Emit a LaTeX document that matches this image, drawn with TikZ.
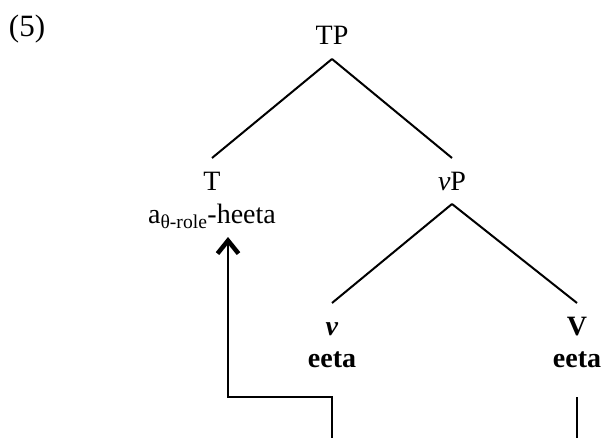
\documentclass[tikz,border=0pt]{standalone}
\usepackage{fontspec}
\setmainfont{Liberation Serif}
\usetikzlibrary{arrows.meta}
\begin{document}
\begin{tikzpicture}
[x=1pt,y=-1pt,
  nodedecorate/.style={anchor=base,inner sep=0pt,outer ysep=14pt,
    text height=18pt,text depth=0pt,font=\fontsize{28}{33}\selectfont},%
  linedecorate/.style={-,line width=2pt},
  arrowdecorate/.style={line width=2pt,line join=miter,
    -{Straight Barb[length=13pt,width=21pt,line width=4.5pt]}}]
\useasboundingbox (0,0) rectangle (601,438);
\node (exno) at (27,37) [anchor=base,inner sep=0pt,font=\fontsize{31}{36}\selectfont] {(5)};
%% nodes or vertices
\foreach \nodename/\x/\y/\txt in {tp/332/45/TP, t/212/190/T,
  vp/452/190/{\textit{v}P}, vsmall/332/335/{\textbf{\textit{v}}},
  vbig/577/335/{\textbf{V}}} {
  \node (\nodename) at (\x,\y) [nodedecorate] {\txt};
}
\foreach \nodename/\x/\y/\txt in {tlex/212/223/{a\textsubscript{θ-role}-heeta},
  vsmalllex/332/367/{\textbf{eeta}}, vbiglex/577/367/{\textbf{eeta}}} {
  \node (\nodename) at (\x,\y) [nodedecorate] {\txt};
}
%% edges or lines
\path
\foreach \startnode/\endnode in {tp/t, tp/vp, vp/vsmall, vp/vbig} {
  (\startnode.south) edge[linedecorate] (\endnode.north)
};
%% head movement of v to T
\coordinate (vfoot) at (332,438);
\coordinate (vturn) at (332,397);
\coordinate (tturn) at (228,397);
\draw[arrowdecorate] (vfoot) -- (vturn) -- (tturn) -- (tturn |- tlex.south);
%% trace line under V
\coordinate (Vfoot) at (577,438);
\coordinate (Vtop) at (577,397);
\draw[linedecorate] (Vfoot) -- (Vtop);
\end{tikzpicture}
\end{document}
